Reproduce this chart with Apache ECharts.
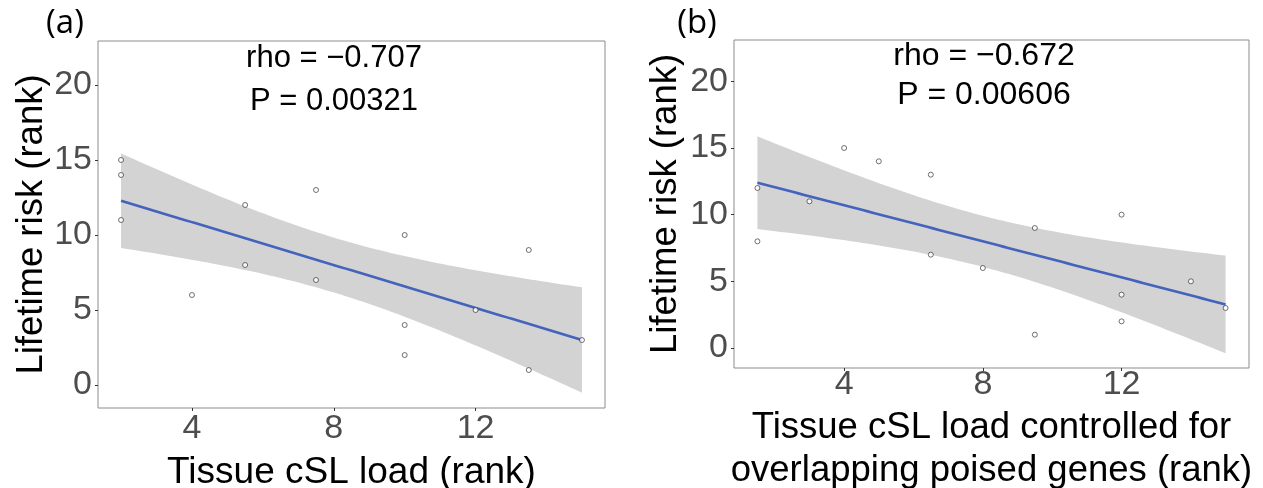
<!DOCTYPE html>
<html>
<head>
<meta charset="UTF-8">
<script src="https://cdn.jsdelivr.net/npm/echarts@6/dist/echarts.min.js"></script>
<style>
body { margin:0; padding:0; background:#fff; }
#chart { width:1263px; height:488px; }
</style>
</head>
<body><div id="chart"></div>
<script>
// (a) tissue cSL load rank vs lifetime risk rank
var loadA = [2, 2, 2, 4, 5.5, 5.5, 7.5, 7.5, 10, 10, 10, 12, 13.5, 13.5, 15];
var riskA = [15, 14, 11, 6, 12, 8, 13, 7, 10, 4, 2, 5, 9, 1, 3];
// (b) load controlled for overlapping poised genes
var loadB = [1.5, 1.5, 3, 4, 5, 6.5, 6.5, 8, 9.5, 9.5, 12, 12, 12, 14, 15];
var riskB = [12, 8, 11, 15, 14, 13, 7, 6, 9, 1, 10, 4, 2, 5, 3];
var xTicks = [4, 8, 12];
var yTicks = [0, 5, 10, 15, 20];
var statsA = ['rho = \u22120.707', 'P = 0.00321'];
var statsB = ['rho = \u22120.672', 'P = 0.00606'];

var FONT = '"Liberation Sans", Arial, sans-serif';

// ordinary least squares + 95% confidence band (like geom_smooth(method = "lm"))
function fitLm(xs, ys) {
  var n = xs.length, mx = 0, my = 0;
  for (var i = 0; i < n; i++) { mx += xs[i]; my += ys[i]; }
  mx /= n; my /= n;
  var sxx = 0, sxy = 0;
  for (i = 0; i < n; i++) { sxx += (xs[i] - mx) * (xs[i] - mx); sxy += (xs[i] - mx) * (ys[i] - my); }
  var b = sxy / sxx, a = my - b * mx, sse = 0;
  for (i = 0; i < n; i++) { var r = ys[i] - (a + b * xs[i]); sse += r * r; }
  var s = Math.sqrt(sse / (n - 2));
  var t = 2.160; // t quantile 0.975, df = 13
  var lo = Math.min.apply(null, xs), hi = Math.max.apply(null, xs);
  var line = [], band = [];
  for (i = 0; i <= 80; i++) {
    var x = lo + (hi - lo) * i / 80, yh = a + b * x;
    var se = s * Math.sqrt(1 / n + (x - mx) * (x - mx) / sxx);
    line.push([x, yh]);
    band.push([x, yh - t * se, yh + t * se]);
  }
  return { line: line, band: band };
}

function bandSeries(band, idx) {
  return {
    type: 'custom', xAxisIndex: idx, yAxisIndex: idx, silent: true, z: 1,
    data: [[band[0][0], band[0][1]]],
    renderItem: function (params, api) {
      var pts = [];
      band.forEach(function (d) { pts.push(api.coord([d[0], d[2]])); });
      for (var i = band.length - 1; i >= 0; i--) pts.push(api.coord([band[i][0], band[i][1]]));
      return { type: 'polygon', shape: { points: pts }, style: { fill: '#d3d3d3' } };
    }
  };
}

function pairs(xs, ys) { return xs.map(function (x, i) { return [x, ys[i]]; }); }

function xAxis(idx, min, max, name, gap, margin, nameSize) {
  return {
    type: 'value', gridIndex: idx, min: min, max: max,
    name: name, nameLocation: 'middle', nameGap: gap,
    nameTextStyle: { color: '#000', fontSize: nameSize, fontFamily: FONT, lineHeight: 43 },
    axisLine: { show: false, onZero: false }, splitLine: { show: false },
    axisTick: { show: true, customValues: xTicks, length: 3, lineStyle: { color: '#333' } },
    axisLabel: { customValues: xTicks, color: '#4d4d4d', fontSize: 34, fontFamily: FONT, margin: margin }
  };
}

function yAxis(idx, min, max, gap) {
  return {
    type: 'value', gridIndex: idx, min: min, max: max,
    name: 'Lifetime risk (rank)', nameLocation: 'middle', nameGap: gap,
    nameTextStyle: { color: '#000', fontSize: 36.5, fontFamily: FONT },
    axisLine: { show: false, onZero: false }, splitLine: { show: false },
    axisTick: { show: true, customValues: yTicks, length: 3, lineStyle: { color: '#333' } },
    axisLabel: { customValues: yTicks, color: '#4d4d4d', fontSize: 34, fontFamily: FONT, margin: 6 }
  };
}

var fitA = fitLm(loadA, riskA);
var fitB = fitLm(loadB, riskB);

function points(xs, ys, idx) {
  return {
    type: 'scatter', xAxisIndex: idx, yAxisIndex: idx, z: 3,
    data: pairs(xs, ys), symbol: 'circle', symbolSize: 5,
    itemStyle: { color: '#fff', borderColor: '#222', borderWidth: 0.8 }
  };
}

function fitLine(fit, idx) {
  return {
    type: 'line', xAxisIndex: idx, yAxisIndex: idx, z: 2,
    data: fit.line, showSymbol: false, silent: true,
    lineStyle: { color: '#4363bd', width: 2.6 }
  };
}

function statText(x, y, txt, size) {
  return { type: 'text', x: x, y: y, style: { text: txt, font: size + 'px ' + FONT, fill: '#000', align: 'center', verticalAlign: 'middle' } };
}

var chart = echarts.init(document.getElementById('chart'));
chart.setOption({
  animation: false,
  backgroundColor: '#fff',
  grid: [
    { left: 98, top: 41, width: 507, height: 367, outerBoundsMode: 'none', containLabel: false, show: true, borderColor: '#8c8c8c', borderWidth: 1, backgroundColor: 'transparent' },
    { left: 734, top: 40, width: 515, height: 328, outerBoundsMode: 'none', containLabel: false, show: true, borderColor: '#8c8c8c', borderWidth: 1, backgroundColor: 'transparent' }
  ],
  xAxis: [
    xAxis(0, 1.35, 15.65, 'Tissue cSL load (rank)', 37, 4, 37),
    xAxis(1, 0.825, 15.675, 'Tissue cSL load controlled for\noverlapping poised genes (rank)', 33, 0, 36.5)
  ],
  yAxis: [
    yAxis(0, -1.53, 22.93, 48),
    yAxis(1, -1.5, 23.1, 50)
  ],
  series: [
    bandSeries(fitA.band, 0), fitLine(fitA, 0), points(loadA, riskA, 0),
    bandSeries(fitB.band, 1), fitLine(fitB, 1), points(loadB, riskB, 1)
  ],
  graphic: [
    { type: 'text', x: 65, y: 24, style: { text: '(a)', font: '33px "Open Sans", sans-serif', fill: '#000', align: 'center', verticalAlign: 'middle' } },
    { type: 'text', x: 697, y: 24, style: { text: '(b)', font: '33px "Open Sans", sans-serif', fill: '#000', align: 'center', verticalAlign: 'middle' } },
    statText(334, 58, statsA[0], 31), statText(334, 101, statsA[1], 31),
    statText(984, 56, statsB[0], 32), statText(984, 95, statsB[1], 32)
  ]
});
</script>
</body>
</html>
